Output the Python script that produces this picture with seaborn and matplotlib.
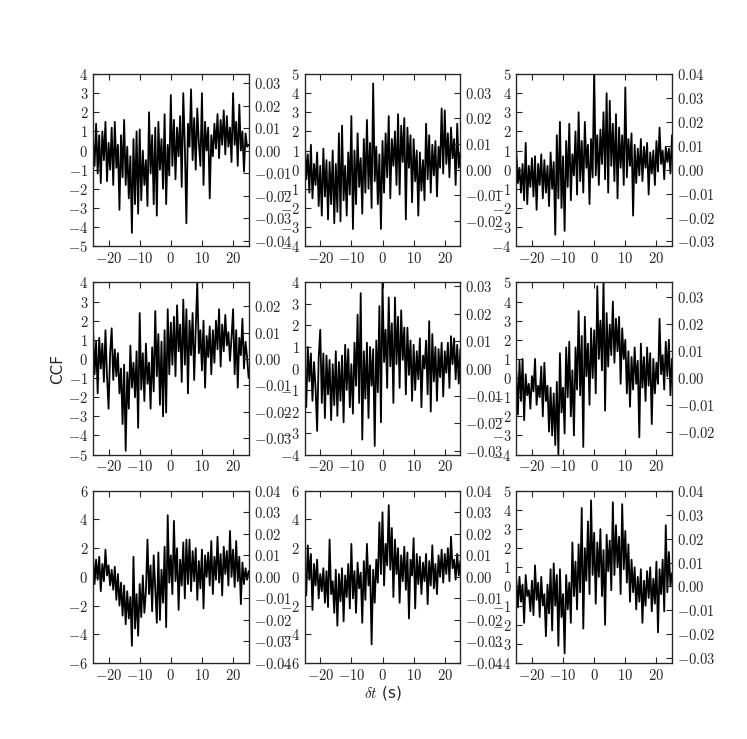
import numpy as np
import pandas as pd
import matplotlib
matplotlib.use("Agg")
import matplotlib.pyplot as plt
import seaborn as sns
from matplotlib.ticker import MultipleLocator, FuncFormatter

# lag axis (s)
lags = np.arange(-25, 25.01, 0.5)

# CCF values (row by row)
ccf_1 = [0.6, -0.8, 1.4, -1.2, 0.8, -1.7, 1.0, -0.5, 1.5, -1.6,
         0.4, -1.0, 1.2, -1.8, 1.5, -0.9, 0.3, -3.1, 0.8, -1.4,
         1.6, -1.8, 0.2, -2.5, -0.3, -4.3, 0.6, -2.8, 1.0, -3.3,
         1.1, -2.6, 0.0, -1.8, -0.5, -2.9, 2.0, -1.2, 0.8, -2.8,
         1.2, -3.4, 1.5, -1.0, 0.6, -2.0, 1.9, -2.8, 0.3, -1.3,
         2.9, -0.8, 1.6, -1.5, 1.2, -0.3, 1.8, -1.9, 3.0, 0.2,
         -3.8, 1.4, 0.2, 3.2, -0.5, 1.7, -1.0, 2.2, 0.4, -0.8,
         3.0, -1.8, 1.5, 0.0, 1.2, -2.5, 0.8, -0.3, 1.4, 0.1,
         1.9, -0.4, 1.6, 0.3, 2.1, -0.2, 1.8, 0.2, 1.2, -0.6,
         3.0, 0.3, 1.5, -0.8, 2.4, 0.0, 1.0, -1.1, 0.9, 0.2, 0.3]
ccf_2 = [1.6, -0.5, 0.8, -1.2, 1.3, -1.5, 0.3, -0.8, 0.9, -1.9,
         0.2, -2.4, 1.1, -1.4, 0.5, -2.6, 0.4, -1.8, 1.0, -2.8,
         0.3, -2.2, 1.9, -2.7, 2.3, -1.6, 0.2, -2.4, 0.9, -1.3,
         2.8, -3.1, 1.0, -1.8, 1.9, -0.9, 0.6, -2.3, 1.6, -1.2,
         2.6, -1.0, 1.4, -2.0, 4.5, -0.6, 1.2, -1.8, 0.8, -3.1,
         1.5, -1.2, 1.9, -0.4, 2.8, -1.5, 1.6, 0.2, 2.0, -0.8,
         2.9, -1.3, 2.3, 0.4, 2.7, -2.6, 2.2, 0.1, 1.8, -1.7,
         1.6, -0.6, 1.0, -2.4, 0.9, -1.1, 0.5, -1.6, 2.4, -0.5,
         1.8, -1.2, 1.3, -0.3, 1.5, -1.4, 1.2, 0.1, 3.2, -0.2,
         3.1, 0.3, 1.9, -0.4, 2.2, 0.6, 1.6, -0.8, 2.4, 0.1, 0.9]
ccf_3 = [0.9, -0.7, 0.1, -1.2, 0.3, -1.6, 1.4, -1.8, 0.2, -0.9,
         0.6, -1.4, 0.7, -2.1, 0.3, -0.8, 0.8, -1.5, 0.5, -1.2,
         0.2, -1.9, 0.9, -1.0, 0.4, -3.4, 1.8, -1.5, 2.5, -2.0,
         0.7, -3.2, 1.5, -0.9, 2.4, -1.6, 0.8, -0.3, 2.0, -1.3,
         3.0, -0.6, 1.5, -1.2, 2.5, 0.1, 1.3, -1.8, 1.6, -0.4,
         5.2, -0.3, 1.8, -0.8, 2.1, 0.3, 3.0, -0.5, 4.0, -1.2,
         3.6, 0.2, 2.4, -0.6, 2.9, -1.5, 2.2, 0.1, 1.8, -0.8,
         4.3, -0.4, 1.6, 0.2, 1.9, -2.4, 1.3, -0.7, 1.1, -0.3,
         1.6, -0.6, 1.2, 0.1, 1.4, -1.3, 0.9, -0.2, 1.0, -0.8,
         1.5, -0.1, 2.2, 0.3, 1.0, -0.5, 1.2, 0.4, 1.1, -0.2, 1.8]
ccf_4 = [1.6, -0.8, 0.9, -1.8, 1.1, -0.5, 0.8, -1.2, 1.5, -0.9,
         -2.6, 0.3, 1.6, -1.1, 0.5, -0.9, 0.3, -1.8, -0.5, -3.4,
         -0.3, -4.8, -0.7, -2.6, 0.7, -1.5, -0.2, -2.0, 0.4, -3.6,
         2.4, -1.6, 0.3, -2.2, 0.8, -1.3, -0.2, -2.6, 0.6, -1.7,
         2.5, -0.9, 1.3, -2.4, 0.9, -3.0, 1.5, -2.8, 2.6, -0.8,
         1.9, -0.3, 2.2, -0.9, 2.8, 0.4, 1.8, -1.2, 3.1, -0.3,
         2.6, -1.8, 2.0, 0.2, 2.4, -1.1, 1.6, 4.0, 0.3, 1.5,
         -0.6, 2.0, -1.5, 1.2, 0.1, 1.7, -0.8, 1.5, -0.2, 2.0,
         0.5, 2.6, -0.4, 1.8, 0.4, 2.3, 0.7, 1.4, -0.1, 1.1,
         2.6, -0.8, 1.5, -1.5, 1.1, 0.2, 2.1, -0.5, 0.9, 0.1, -1.0]
ccf_5 = [0.2, -1.8, 1.0, -0.6, 0.7, -1.5, 0.3, -0.9, -2.9, 0.5,
         1.8, -1.6, 0.7, -2.3, 0.6, -1.2, 0.4, -2.4, 0.2, -1.7,
         0.8, -2.2, 0.3, -1.5, 0.6, -2.5, 1.1, -1.0, 0.9, -1.8,
         0.2, -2.1, 1.2, -0.8, 2.5, -1.6, 3.5, -3.3, 0.8, -1.4,
         1.2, -2.3, 1.0, -0.8, 0.9, -3.6, 1.3, -1.1, 2.9, -2.5,
         4.0, 0.3, 1.8, -0.9, 3.3, 0.1, 2.1, -1.6, 3.3, 0.2,
         2.4, -0.9, 2.7, 0.4, 1.9, -1.2, 1.9, -0.3, 1.3, -1.5,
         1.1, -1.0, 0.8, -0.5, 1.4, -1.8, 0.6, 0.0, 1.3, -1.2,
         2.2, -2.0, 1.6, -0.6, 1.0, -1.5, 0.9, -0.4, 1.2, -1.3,
         0.8, -0.2, 1.2, -0.9, 1.5, 0.2, 1.4, -0.5, 1.1, -0.7, 0.9]
ccf_6 = [0.3, -1.9, 0.9, -1.2, 1.0, -2.2, 0.2, -0.9, -0.3, -1.6,
         0.1, -0.7, 1.0, -1.4, -0.4, -1.0, 0.6, -2.0, 0.8, -1.2,
         -0.4, -2.8, -0.5, -3.0, -0.8, -3.5, -0.2, -4.0, 1.3, -1.8,
         -0.5, -2.9, 1.6, -1.0, 1.9, -2.0, 0.4, -3.0, 1.6, -0.6,
         3.5, -0.9, 2.2, -3.6, 3.2, 0.1, 1.8, -1.4, 2.6, 0.0,
         2.5, -0.8, 4.8, 1.0, 3.0, 0.4, 5.2, -1.7, 3.4, 0.6,
         2.8, 1.2, 4.0, 0.8, 3.1, 1.4, 3.2, -0.3, 2.6, 1.0,
         2.0, -0.8, 1.4, -1.5, 1.1, -0.6, 1.6, -0.3, 0.9, -3.1,
         1.8, -0.5, 1.1, -1.2, 1.6, -0.4, 1.3, -2.4, 1.0, -0.8,
         0.8, -0.3, 3.1, 0.2, 1.2, -0.6, 1.9, 0.1, 2.0, -0.9, 1.0]
ccf_7 = [1.5, -0.5, 1.2, -0.2, 1.4, -1.0, 0.9, -0.3, 1.9, 0.1,
         0.8, -0.6, 0.5, -0.9, 0.7, -1.6, 0.2, -2.0, -0.4, -2.7,
         -0.6, -3.3, -1.0, -2.9, -1.4, -4.8, 1.4, -3.6, -1.2, -4.1,
         -0.5, -2.8, 0.1, -2.5, -1.0, 2.6, -1.2, 0.8, -2.4, 1.5,
         -0.8, -3.2, 1.7, -3.0, 0.5, -1.8, 2.1, -3.5, 4.3, -0.4,
         1.5, -1.2, 3.9, -0.3, 2.0, -2.3, 1.2, -0.6, 2.4, -1.5,
         2.6, -0.5, 2.6, -1.0, 1.8, -0.3, 2.0, -1.6, 1.1, -0.8,
         1.9, -2.2, 1.5, 0.0, 1.7, -0.6, 2.5, -1.2, 1.4, -0.2,
         2.8, -0.4, 1.6, -1.3, 2.1, 0.2, 1.8, -0.6, 3.2, 0.0,
         1.9, -0.7, 2.5, -0.3, 1.4, -1.9, 1.0, -0.5, 0.6, -0.2, 0.4]
ccf_8 = [0.8, -1.3, 2.2, -0.2, 1.6, -2.3, 0.9, -0.6, 1.2, -1.5,
         0.2, -1.0, 0.6, -1.8, 0.4, -2.1, 2.6, -1.2, -0.3, -2.5,
         0.5, -3.4, 0.2, -1.7, 0.6, -3.1, 0.1, -1.4, 0.9, -2.2,
         2.3, -1.5, 0.4, -2.5, 1.0, -0.8, 0.3, -3.2, 1.1, -1.6,
         2.3, -0.6, 0.8, -4.7, 0.5, -1.8, 1.2, -0.4, 3.8, 0.2,
         4.5, -0.6, 2.3, 0.8, 5.0, 0.5, 3.4, -1.4, 2.6, 0.2,
         2.0, -1.8, 1.5, -0.3, 2.1, -0.9, 1.7, -2.9, 1.2, 0.1,
         2.7, -2.2, 1.6, -0.5, 1.4, -1.2, 1.0, -0.3, 1.6, -1.9,
         1.1, -0.6, 2.2, -0.8, 0.9, -1.2, 1.5, 0.0, 1.9, -0.4,
         1.6, 0.2, 2.0, -0.3, 2.8, 0.6, 1.2, -0.2, 1.6, 0.1, 1.1]
ccf_9 = [0.3, -1.1, 0.5, -0.8, 0.1, -1.9, 0.6, -0.5, -0.2, -1.3,
         0.3, -1.5, 1.1, -0.7, 0.2, -1.6, 0.5, -1.0, -0.4, -2.6,
         0.1, -1.4, 0.9, -2.3, 1.2, -1.0, 0.6, -3.1, 0.9, -1.6,
         -0.4, -3.5, 0.6, -1.2, 0.2, -1.9, 2.3, -0.5, 1.3, -1.2,
         2.2, -0.3, 4.1, -2.2, 2.0, 0.3, 3.4, -0.4, 4.5, 0.6,
         2.8, -0.9, 2.3, 0.5, 3.0, -0.5, 1.9, -2.0, 2.7, 0.8,
         2.4, -0.2, 4.4, 0.6, 3.2, 1.0, 2.6, -0.4, 4.3, 0.9,
         2.9, 0.2, 2.2, -0.8, 1.4, -0.3, 1.0, -1.2, 0.5, -0.8,
         0.9, -1.9, 0.3, -1.0, 0.8, -0.6, 1.0, -1.3, 0.4, -0.9,
         1.3, -2.4, 0.9, -0.4, 1.4, -1.3, 3.2, -0.3, 1.8, 0.0, 0.7]

series = [ccf_1, ccf_2, ccf_3, ccf_4, ccf_5, ccf_6, ccf_7, ccf_8, ccf_9]
y_limits = [(-5, 4), (-4, 5), (-4, 5), (-5, 4), (-4, 4), (-4, 5), (-6, 6), (-6, 6), (-4, 5)]
# right axis: raw CCF per unit of the normalised one
scales = [0.0085, 0.00744, 0.008, 0.00725, 0.00787, 0.00704, 0.00667, 0.00667, 0.008]
y_steps = [1, 1, 1, 1, 1, 1, 2, 2, 1]

sns.set_style("ticks", {"xtick.direction": "in", "ytick.direction": "in"})
plt.rcParams["mathtext.fontset"] = "cm"
plt.rcParams["xtick.top"] = True
plt.rcParams["xtick.major.size"] = 4
plt.rcParams["ytick.major.size"] = 4
plt.rcParams["font.family"] = ["DejaVu Sans"]


def num(v, pos):
    if abs(v) < 1e-9:
        v = 0
    return f"${v:g}$"


def num2(v, pos):
    if abs(v) < 1e-9:
        v = 0.0
    return f"${v:.2f}$"


fig, axes = plt.subplots(3, 3, figsize=(7.47, 7.39), dpi=100)
fig.subplots_adjust(left=93 / 747, right=672 / 747, top=1 - 74 / 739,
                    bottom=1 - 663 / 739, wspace=0.36, hspace=0.21)

for i, ax in enumerate(axes.flat):
    df = pd.DataFrame({"lag": lags, "ccf": series[i]})
    sns.lineplot(data=df, x="lag", y="ccf", ax=ax, color="black", lw=1.3)
    ax.set_xlim(-25, 25)
    ax.set_ylim(*y_limits[i])
    ax.xaxis.set_major_locator(MultipleLocator(10))
    ax.yaxis.set_major_locator(MultipleLocator(y_steps[i]))
    ax.xaxis.set_major_formatter(FuncFormatter(num))
    ax.yaxis.set_major_formatter(FuncFormatter(num))
    ax.tick_params(labelsize=10.5, right=False)
    ax.set_xlabel("")
    ax.set_ylabel("")
    for s in ax.spines.values():
        s.set_linewidth(0.9)

    ax2 = ax.twinx()
    lo, hi = y_limits[i]
    ax2.set_ylim(lo * scales[i], hi * scales[i])
    ax2.yaxis.set_major_locator(MultipleLocator(0.01))
    ax2.yaxis.set_major_formatter(FuncFormatter(num2))
    ax2.tick_params(labelsize=10.5, direction="in")

axes[1, 0].set_ylabel("CCF", fontsize=11)
axes[1, 0].yaxis.set_label_coords(-0.18, 0.5)
axes[2, 1].set_xlabel(r"$\delta t$ (s)", fontsize=11)
axes[2, 1].xaxis.set_label_coords(0.5, -0.12)

fig.savefig("out.png", dpi=100)
